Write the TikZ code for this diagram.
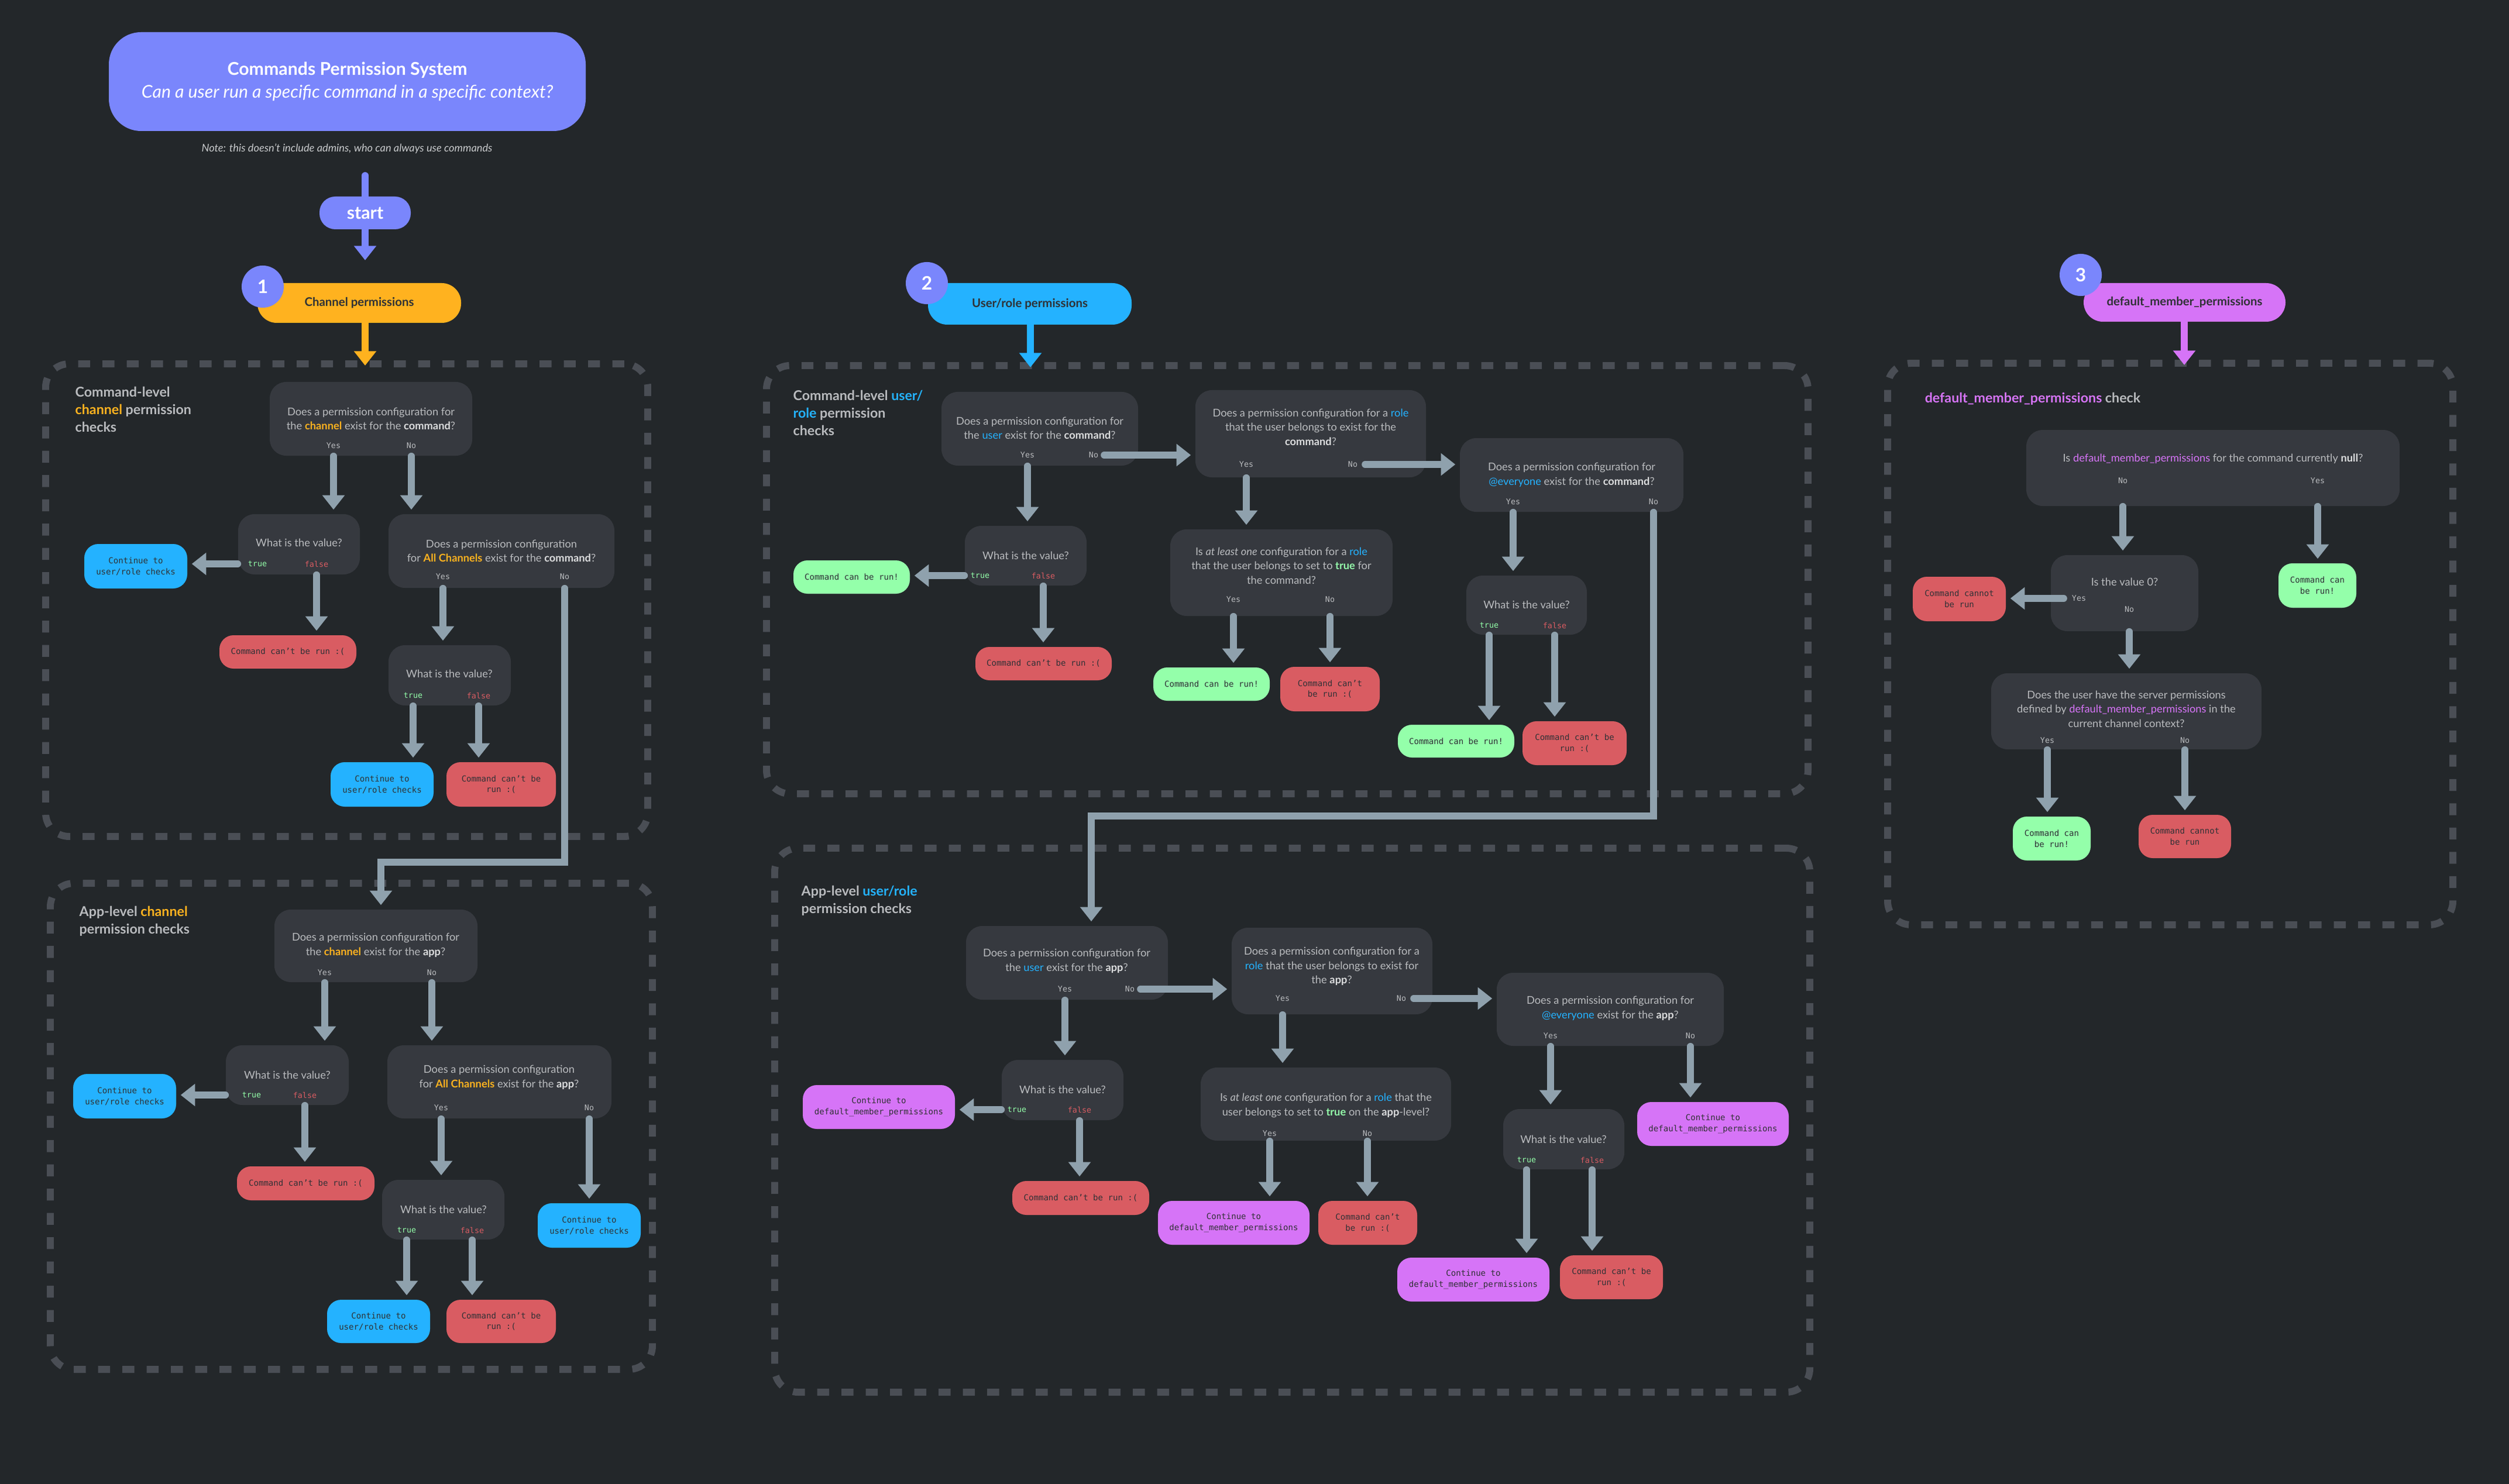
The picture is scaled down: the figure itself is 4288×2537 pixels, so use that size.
\documentclass[tikz,border=0pt]{standalone}
\usepackage{fontspec}
\setmainfont{Lato}
\newfontfamily\monof{DejaVu Sans Mono}
\usetikzlibrary{arrows.meta}
\definecolor{bg}{HTML}{23272A}
\definecolor{boxc}{HTML}{36393F}
\definecolor{arrc}{HTML}{8FA1AD}
\definecolor{txt}{HTML}{B9BBBE}
\definecolor{hi}{HTML}{DCDDDE}
\definecolor{blurple}{HTML}{7A86FC}
\definecolor{orng}{HTML}{FFB21F}
\definecolor{blu}{HTML}{24B2FF}
\definecolor{grn}{HTML}{94FFAA}
\definecolor{rd}{HTML}{D95C62}
\definecolor{prp}{HTML}{D674F7}
\definecolor{dk}{HTML}{2F3136}
\definecolor{dash}{HTML}{4A4E55}
\newcommand\mybox[7]{\node[#6, minimum width={(#4-#2)*0.01cm}, minimum height={(#5-#3)*0.01cm}] (#1) at ({(#2+#4)/2},{(#3+#5)/2}) {#7};}
\newcommand\qf{\fontsize{5.2}{7}\selectfont}
\newcommand\hb[1]{\textbf{\color{hi}#1}}
\newcommand\co[2]{\textcolor{#1}{#2}}
\tikzset{
 q/.style={fill=boxc, rounded corners=0.28cm, inner sep=0},
 qt/.style={text=txt, font=\qf, align=center, inner sep=0},
 lab/.style={text=txt, font=\monof\fontsize{3.8}{4}\selectfont, inner sep=0},
 tr/.style={lab, text=grn},
 fl/.style={lab, text=rd},
 res/.style={rounded corners=0.24cm, inner sep=0, text=dk, font=\monof\fontsize{4}{5.3}\selectfont, align=center},
 cb/.style={res, fill=blu}, cr/.style={res, fill=rd}, cg/.style={res, fill=grn}, cp/.style={res, fill=prp},
 dbox/.style={draw=dash, line width=3.4pt, dash pattern=on 5.8pt off 6pt, rounded corners=0.4cm, inner sep=0},
 sect/.style={anchor=north west, text=txt, font=\bfseries\fontsize{6.6}{8.4}\selectfont, align=left, inner sep=0},
 arr/.style={draw=arrc, line width=3.3pt, line cap=round, -{Triangle[width=10.5pt,length=7pt]}, shorten >=2pt},
 pill/.style={rounded corners=0.33cm, inner sep=0, text=dk, font=\bfseries\fontsize{5.8}{7}\selectfont},
 num/.style={circle, fill=blurple, text=white, minimum size=0.72cm, inner sep=0, font=\bfseries\fontsize{9}{10}\selectfont},
}
\begin{document}
\begin{tikzpicture}[x=0.01cm,y=-0.01cm]
\fill[bg] (0,0) rectangle (4288,2537);
\useasboundingbox (0,0) rectangle (4288,2537);
% header
\mybox{title}{186}{55}{1001}{224}{fill=blurple, rounded corners=0.55cm, inner sep=0, text=white, align=center, font=\fontsize{8.6}{11}\selectfont}{{\bfseries Commands Permission System}\\{\itshape Can a user run a specific command in a specific context?}}
\node[text=txt!80, font=\itshape\fontsize{5.2}{6}\selectfont] (note) at (593,254) {Note: this doesn’t include admins, who can always use commands};
\mybox{start}{546}{336}{702}{392}{fill=blurple, rounded corners=0.27cm, inner sep=0, text=white, font=\bfseries\fontsize{8.6}{10}\selectfont}{start}
\coordinate (top) at (624,300);
\draw[blurple, line width=3.3pt, line cap=round] (top) -- (start.north);
\mybox{p1}{440}{484}{788}{552}{pill, fill=orng}{Channel permissions}
\draw[arr, draw=blurple] (start.south) -- (start.south |- 0,452);
\node[num] (n1) at (449,490) {1};
% section 1
\mybox{s1}{78}{622}{1107}{1430}{dbox}{}
\draw[arr, draw=orng] (p1.south -| 624,0) -- (624,632);
\node[sect] (s1t) at (128,661) {Command-level\\\co{orng}{channel} permission\\checks};
\mybox{q1}{461}{653}{807}{779}{q}{}
\node[qt] (q1t) at (634,716) {Does a permission configuration for\\the \co{orng}{\textbf{channel}} exist for the \hb{command}?};
\node[lab] (q1y) at (570,762) {Yes}; \node[lab] (q1n) at (703,762) {No};
\mybox{v1}{407}{879}{615}{982}{q}{}
\node[qt] (v1t) at (511,928) {What is the value?};
\node[tr] (v1a) at (440,964) {true}; \node[fl] (v1b) at (541,964) {false};
\mybox{c1}{144}{930}{320}{1006}{cb}{Continue to\\user/role checks}
\mybox{r1}{375}{1086}{609}{1143}{cr}{Command can’t be run :(}
\mybox{q2}{664}{879}{1050}{1005}{q}{}
\node[qt] (q2t) at (857,942) {Does a permission configuration\\for \co{orng}{\textbf{All Channels}} exist for the \hb{command}?};
\node[lab] (q2y) at (757,986) {Yes}; \node[lab] (q2n) at (965,986) {No};
\mybox{v2}{664}{1103}{873}{1206}{q}{}
\node[qt] (v2t) at (768,1152) {What is the value?};
\node[tr] (v2a) at (706,1189) {true}; \node[fl] (v2b) at (818,1189) {false};
\mybox{c2}{565}{1303}{741}{1379}{cb}{Continue to\\user/role checks}
\mybox{r2}{763}{1303}{950}{1379}{cr}{Command can’t be\\run :(}
\draw[arr] (q1.south -| 570,0) -- (v1.north -| 570,0);
\draw[arr] (q1.south -| 703,0) -- (q2.north -| 703,0);
\draw[arr] (v1.west |- 0,964) -- (c1.east |- 0,964);
\draw[arr] (v1.south -| 541,0) -- (r1.north -| 541,0);
\draw[arr] (q2.south -| 757,0) -- (v2.north -| 757,0);
\draw[arr] (v2.south -| 706,0) -- (c2.north -| 706,0);
\draw[arr] (v2.south -| 818,0) -- (r2.north -| 818,0);
% section 1b
\mybox{s1b}{86}{1510}{1115}{2341}{dbox}{}
\node[sect] (s1bt) at (135,1549) {App-level \co{orng}{channel}\\permission checks};
\mybox{q3}{469}{1555}{816}{1679}{q}{}
\node[qt] (q3t) at (642,1616) {Does a permission configuration for\\the \co{orng}{\textbf{channel}} exist for the \hb{app}?};
\node[lab] (q3y) at (555,1663) {Yes}; \node[lab] (q3n) at (738,1663) {No};
\mybox{v3}{386}{1787}{596}{1889}{q}{}
\node[qt] (v3t) at (491,1838) {What is the value?};
\node[tr] (v3a) at (430,1872) {true}; \node[fl] (v3b) at (521,1872) {false};
\mybox{c3}{125}{1836}{301}{1912}{cb}{Continue to\\user/role checks}
\mybox{r3}{405}{1994}{640}{2052}{cr}{Command can’t be run :(}
\mybox{q4}{662}{1787}{1045}{1912}{q}{}
\node[qt] (q4t) at (853,1842) {Does a permission configuration\\for \co{orng}{\textbf{All Channels}} exist for the \hb{app}?};
\node[lab] (q4y) at (754,1894) {Yes}; \node[lab] (q4n) at (1007,1894) {No};
\mybox{v4}{653}{2017}{862}{2119}{q}{}
\node[qt] (v4t) at (758,2068) {What is the value?};
\node[tr] (v4a) at (695,2103) {true}; \node[fl] (v4b) at (807,2103) {false};
\mybox{c4}{559}{2222}{735}{2296}{cb}{Continue to\\user/role checks}
\mybox{r4}{763}{2222}{950}{2296}{cr}{Command can’t be\\run :(}
\mybox{c5}{919}{2057}{1095}{2133}{cb}{Continue to\\user/role checks}
\draw[arr] (q2.south -| 965,0) -- (965,1474) -- (651,1474) -- (q3.north -| 651,0);
\draw[arr] (q3.south -| 555,0) -- (v3.north -| 555,0);
\draw[arr] (q3.south -| 738,0) -- (q4.north -| 738,0);
\draw[arr] (v3.west |- 0,1872) -- (c3.east |- 0,1872);
\draw[arr] (v3.south -| 521,0) -- (r3.north -| 521,0);
\draw[arr] (q4.south -| 754,0) -- (v4.north -| 754,0);
\draw[arr] (q4.south -| 1007,0) -- (c5.north -| 1007,0);
\draw[arr] (v4.south -| 695,0) -- (c4.north -| 695,0);
\draw[arr] (v4.south -| 807,0) -- (r4.north -| 807,0);
% section 2
\mybox{p2}{1586}{484}{1934}{555}{pill, fill=blu}{User/role permissions}
\node[num] (n2) at (1584,484) {2};
\mybox{s2}{1310}{625}{3090}{1357}{dbox}{}
\draw[arr, draw=blu] (p2.south -| 1761,0) -- (1761,635);
\node[sect] (s2t) at (1355,667) {Command-level \co{blu}{user/}\\\co{blu}{role} permission\\checks};
\mybox{q5}{1609}{670}{1945}{796}{q}{}
\node[qt] (q5t) at (1777,732) {Does a permission configuration for\\the \co{blu}{user} exist for the \hb{command}?};
\node[lab] (q5y) at (1756,778) {Yes}; \node[lab] (q5n) at (1869,778) {No};
\mybox{q6}{2043}{667}{2437}{816}{q}{}
\node[qt] (q6t) at (2240,730) {Does a permission configuration for a \co{blu}{role}\\that the user belongs to exist for the\\\hb{command}?};
\node[lab] (q6y) at (2130,794) {Yes}; \node[lab] (q6n) at (2312,794) {No};
\mybox{q7}{2495}{749}{2877}{875}{q}{}
\node[qt] (q7t) at (2686,812) {Does a permission configuration for\\\co{blu}{@everyone} exist for the \hb{command}?};
\node[lab] (q7y) at (2586,858) {Yes}; \node[lab] (q7n) at (2826,858) {No};
\mybox{v5}{1649}{899}{1857}{1001}{q}{}
\node[qt] (v5t) at (1753,950) {What is the value?};
\node[tr] (v5a) at (1675,984) {true}; \node[fl] (v5b) at (1783,984) {false};
\mybox{g1}{1356}{958}{1555}{1015}{cg}{Command can be run!}
\mybox{r5}{1667}{1106}{1900}{1163}{cr}{Command can’t be run :(}
\mybox{q8}{2000}{905}{2380}{1053}{q}{}
\node[qt] (q8t) at (2190,967) {Is \textit{at least one} configuration for a \co{blu}{role}\\that the user belongs to set to \co{grn}{\textbf{true}} for\\the command?};
\node[lab] (q8y) at (2108,1025) {Yes}; \node[lab] (q8n) at (2273,1025) {No};
\mybox{g2}{1971}{1141}{2170}{1198}{cg}{Command can be run!}
\mybox{r6}{2188}{1140}{2358}{1216}{cr}{Command can’t\\be run :(}
\mybox{v6}{2506}{984}{2712}{1085}{q}{}
\node[qt] (v6t) at (2609,1034) {What is the value?};
\node[tr] (v6a) at (2545,1069) {true}; \node[fl] (v6b) at (2657,1069) {false};
\mybox{g3}{2389}{1239}{2588}{1295}{cg}{Command can be run!}
\mybox{r7}{2602}{1233}{2780}{1308}{cr}{Command can’t be\\run :(}
\draw[arr] (1887,778) -- (q6.west |- 0,778);
\draw[arr] (2333,794) -- (q7.west |- 0,794);
\draw[arr] (q5.south -| 1756,0) -- (v5.north -| 1756,0);
\draw[arr] (v5.west |- 0,984) -- (g1.east |- 0,984);
\draw[arr] (v5.south -| 1783,0) -- (r5.north -| 1783,0);
\draw[arr] (q6.south -| 2130,0) -- (q8.north -| 2130,0);
\draw[arr] (q8.south -| 2108,0) -- (g2.north -| 2108,0);
\draw[arr] (q8.south -| 2273,0) -- (r6.north -| 2273,0);
\draw[arr] (q7.south -| 2586,0) -- (v6.north -| 2586,0);
\draw[arr] (v6.south -| 2545,0) -- (g3.north -| 2545,0);
\draw[arr] (v6.south -| 2657,0) -- (r7.north -| 2657,0);
% section 2b
\mybox{s2b}{1324}{1450}{3093}{2380}{dbox}{}
\node[sect] (s2bt) at (1369,1514) {App-level \co{blu}{user/role}\\permission checks};
\mybox{q9}{1651}{1583}{1996}{1709}{q}{}
\node[qt] (q9t) at (1823,1643) {Does a permission configuration for\\the \co{blu}{user} exist for the \hb{app}?};
\node[lab] (q9y) at (1820,1691) {Yes}; \node[lab] (q9n) at (1931,1691) {No};
\mybox{q10}{2105}{1586}{2448}{1734}{q}{}
\node[qt] (q10t) at (2276,1652) {Does a permission configuration for a\\\co{blu}{role} that the user belongs to exist for\\the \hb{app}?};
\node[lab] (q10y) at (2192,1707) {Yes}; \node[lab] (q10n) at (2395,1707) {No};
\mybox{q11}{2558}{1663}{2946}{1788}{q}{}
\node[qt] (q11t) at (2752,1724) {Does a permission configuration for\\\co{blu}{@everyone} exist for the \hb{app}?};
\node[lab] (q11y) at (2650,1771) {Yes}; \node[lab] (q11n) at (2889,1771) {No};
\mybox{v7}{1712}{1812}{1920}{1915}{q}{}
\node[qt] (v7t) at (1816,1863) {What is the value?};
\node[tr] (v7a) at (1738,1897) {true}; \node[fl] (v7b) at (1845,1897) {false};
\mybox{pp1}{1372}{1855}{1632}{1930}{cp}{Continue to\\default\_member\_permissions}
\mybox{r8}{1730}{2019}{1964}{2077}{cr}{Command can’t be run :(}
\mybox{q12}{2052}{1825}{2480}{1950}{q}{}
\node[qt] (q12t) at (2266,1890) {Is \textit{at least one} configuration for a \co{blu}{role} that the\\user belongs to set to \co{grn}{\textbf{true}} on the \hb{app}-level?};
\node[lab] (q12y) at (2170,1938) {Yes}; \node[lab] (q12n) at (2337,1938) {No};
\mybox{pp2}{1979}{2053}{2238}{2128}{cp}{Continue to\\default\_member\_permissions}
\mybox{r9}{2253}{2053}{2422}{2128}{cr}{Command can’t\\be run :(}
\mybox{v8}{2569}{1896}{2776}{1999}{q}{}
\node[qt] (v8t) at (2672,1948) {What is the value?};
\node[tr] (v8a) at (2609,1983) {true}; \node[fl] (v8b) at (2721,1983) {false};
\mybox{pp3}{2388}{2150}{2648}{2225}{cp}{Continue to\\default\_member\_permissions}
\mybox{r10}{2666}{2146}{2842}{2221}{cr}{Command can’t be\\run :(}
\mybox{pp4}{2798}{1884}{3057}{1959}{cp}{Continue to\\default\_member\_permissions}
\draw[arr] (q7.south -| 2826,0) -- (2826,1395) -- (1865,1395) -- (q9.north -| 1865,0);
\draw[arr] (1949,1691) -- (q10.west |- 0,1691);
\draw[arr] (2416,1707) -- (q11.west |- 0,1707);
\draw[arr] (q9.south -| 1820,0) -- (v7.north -| 1820,0);
\draw[arr] (v7.west |- 0,1897) -- (pp1.east |- 0,1897);
\draw[arr] (v7.south -| 1845,0) -- (r8.north -| 1845,0);
\draw[arr] (q10.south -| 2192,0) -- (q12.north -| 2192,0);
\draw[arr] (q12.south -| 2170,0) -- (pp2.north -| 2170,0);
\draw[arr] (q12.south -| 2337,0) -- (r9.north -| 2337,0);
\draw[arr] (q11.south -| 2650,0) -- (v8.north -| 2650,0);
\draw[arr] (q11.south -| 2889,0) -- (pp4.north -| 2889,0);
\draw[arr] (v8.south -| 2609,0) -- (pp3.north -| 2609,0);
\draw[arr] (v8.south -| 2721,0) -- (r10.north -| 2721,0);
% section 3
\mybox{p3}{3561}{484}{3906}{550}{pill, fill=prp}{default\_member\_permissions}
\node[num] (n3) at (3556,470) {3};
\mybox{s3}{3226}{621}{4192}{1581}{dbox}{}
\draw[arr, draw=prp] (p3.south -| 3733,0) -- (3733,631);
\node[sect, anchor=west] (s3t) at (3289,682) {\co{prp}{default\_member\_permissions} check};
\mybox{q13}{3463}{735}{4101}{865}{q}{}
\node[qt] (q13t) at (3782,784) {Is \co{prp}{default\_member\_permissions} for the command currently \hb{null}?};
\node[lab] (q13n) at (3628,822) {No}; \node[lab] (q13y) at (3961,822) {Yes};
\mybox{v9}{3505}{949}{3757}{1079}{q}{}
\node[qt] (v9t) at (3631,995) {Is the value 0?};
\node[lab] (v9y) at (3553,1023) {Yes}; \node[lab] (v9n) at (3639,1042) {No};
\mybox{r11}{3269}{986}{3428}{1062}{cr}{Command cannot\\be run}
\mybox{g4}{3894}{963}{4027}{1039}{cg}{Command can\\be run!}
\mybox{q14}{3403}{1151}{3865}{1281}{q}{}
\node[qt] (q14t) at (3634,1212) {Does the user have the server permissions\\defined by \co{prp}{default\_member\_permissions} in the\\current channel context?};
\node[lab] (q14y) at (3499,1266) {Yes}; \node[lab] (q14n) at (3734,1266) {No};
\mybox{g5}{3440}{1396}{3573}{1471}{cg}{Command can\\be run!}
\mybox{r12}{3655}{1393}{3813}{1467}{cr}{Command cannot\\be run}
\draw[arr] (q13.south -| 3628,0) -- (v9.north -| 3628,0);
\draw[arr] (q13.south -| 3961,0) -- (g4.north -| 3961,0);
\draw[arr] (3527,1023) -- (r11.east |- 0,1023);
\draw[arr] (v9.south -| 3639,0) -- (q14.north -| 3639,0);
\draw[arr] (q14.south -| 3499,0) -- (g5.north -| 3499,0);
\draw[arr] (q14.south -| 3734,0) -- (r12.north -| 3734,0);
\end{tikzpicture}
\end{document}
